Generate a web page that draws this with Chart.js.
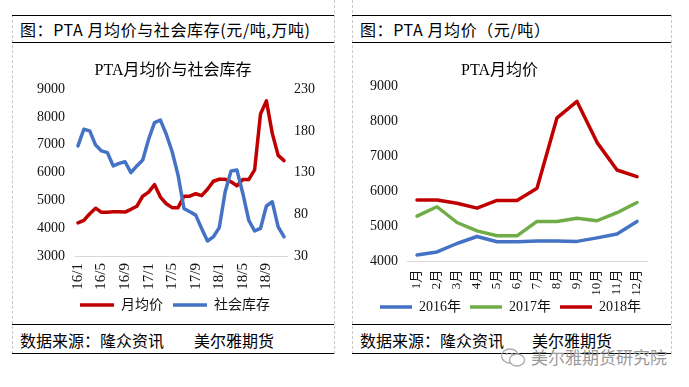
<!DOCTYPE html>
<html>
<head>
<meta charset="utf-8">
<script src="https://cdn.jsdelivr.net/npm/chart.js@4"></script>
<style>
  body { margin: 0; background: #fff; width: 689px; height: 387px; overflow: hidden; position: relative;
         font-family: "Noto Sans CJK SC", sans-serif; }
  .hl { position: absolute; height: 0; border-top: 1.5px solid #000; }
  .vl { position: absolute; width: 0; border-left: 1px dashed #c8c8c8; }
  .txt { position: absolute; font-size: 16px; line-height: 20px; color: #000; white-space: nowrap; }
  canvas { position: absolute; }
</style>
</head>
<body>
<!-- cadres -->
<div class="vl" style="left:12px;top:15px;height:339px"></div>
<div class="vl" style="left:334px;top:0px;height:354px"></div>
<div class="vl" style="left:352px;top:0px;height:354px"></div>
<div class="vl" style="left:671px;top:15px;height:339px"></div>

<div class="hl" style="left:12px;top:15px;width:322px"></div>
<div class="hl" style="left:12px;top:42px;width:322px"></div>
<div class="hl" style="left:352px;top:15px;width:319px"></div>
<div class="hl" style="left:352px;top:42px;width:319px"></div>
<div class="hl" style="left:12px;top:324px;width:322px"></div>
<div class="hl" style="left:12px;top:353px;width:322px"></div>
<div class="hl" style="left:352px;top:324px;width:319px"></div>
<div class="hl" style="left:352px;top:353px;width:319px"></div>

<div class="txt" style="left:20px;top:19px;letter-spacing:0.6px">图：PTA 月均价与社会库存(元/吨,万吨)</div>
<div class="txt" style="left:360px;top:19px;letter-spacing:0.6px">图：PTA 月均价（元/吨）</div>

<div class="txt" style="left:20px;top:330px">数据来源：隆众资讯</div>
<div class="txt" style="left:194px;top:330px">美尔雅期货</div>
<div class="txt" style="left:360px;top:330px">数据来源：隆众资讯</div>
<div class="txt" style="left:532px;top:330px">美尔雅期货</div>

<svg style="position:absolute;left:500px;top:347px" width="28" height="22" viewBox="0 0 28 22">
  <ellipse cx="10" cy="9" rx="8.5" ry="7" fill="none" stroke="#aaa" stroke-width="1.3"/>
  <ellipse cx="17" cy="13" rx="7.5" ry="6" fill="#fff" stroke="#aaa" stroke-width="1.3"/>
  <circle cx="7" cy="7" r="1" fill="#aaa"/><circle cx="12" cy="7" r="1" fill="#aaa"/>
</svg>
<div class="txt" style="left:531px;top:347px;font-size:17px;color:#9a9a9a">美尔雅期货研究院</div>

<canvas id="left" width="322" height="300" style="left:12px;top:43px"></canvas>
<canvas id="right" width="319" height="300" style="left:352px;top:43px"></canvas>

<script>
const months = ['16/1', '16/2', '16/3', '16/4', '16/5', '16/6', '16/7', '16/8', '16/9', '16/10', '16/11', '16/12',
                '17/1', '17/2', '17/3', '17/4', '17/5', '17/6', '17/7', '17/8', '17/9', '17/10', '17/11', '17/12',
                '18/1', '18/2', '18/3', '18/4', '18/5', '18/6', '18/7', '18/8', '18/9', '18/10', '18/11', '18/12'];
const monthNames = ['1月', '2月', '3月', '4月', '5月', '6月', '7月', '8月', '9月', '10月', '11月', '12月'];

// prix moyen mensuel PTA (元/吨)
const price2016 = [4190, 4280, 4520, 4720, 4570, 4570, 4590, 4590, 4580, 4680, 4790, 5150];
const price2017 = [5300, 5570, 5120, 4880, 4740, 4740, 5150, 5150, 5240, 5170, 5400, 5690];
const price2018 = [5760, 5760, 5670, 5530, 5750, 5750, 6100, 8110, 8580, 7410, 6620, 6430];

// stock social (万吨)
const stock = [162, 182, 180, 163, 156, 154, 138, 141, 143, 130, 138, 145,
               170, 190, 193, 176, 155, 127, 87, 83, 79, 63, 48, 53,
               64, 107, 132, 133, 105, 73, 60, 63, 90, 95, 65, 53];

const priceAll = price2016.concat(price2017, price2018);

const RED = '#C00000', BLUE = '#4472C4', GREEN = '#70AD47';

Chart.defaults.font.family = '"Liberation Serif", "Noto Sans CJK SC", serif';
Chart.defaults.font.size = 14;
Chart.defaults.color = '#111';
Chart.defaults.animation = false;

// taille fixe des axes pour caler la zone de tracé
function fix(size) {
    return function (scale) {
        if (scale.isHorizontal()) scale.height = size;
        else scale.width = size;
    };
}

// place la légende (centre des items en y, décalage en x)
const placeLegend = {
    id: 'placeLegend',
    afterLayout(chart, args, opts) {
        const lg = chart.legend;
        if (!lg || opts.y == null) return;
        const pad = lg.options.labels.padding;
        const dy = opts.y - pad - 7 - lg.top;
        const dx = opts.dx || 0;
        lg.top += dy;
        lg.bottom += dy;
        lg.left += dx;
        lg.right += dx;
    }
};

function serie(label, data, color, axis, order) {
    return {
        label: label, data: data, yAxisID: axis, order: order,
        borderColor: color, backgroundColor: color,
        borderWidth: 3.5, pointBorderWidth: 3.5, pointRadius: 0,
        tension: 0, borderJoinStyle: 'round', borderCapStyle: 'round'
    };
}

function legende(largeur, ecart) {
    return {
        position: 'bottom',
        labels: {
            usePointStyle: true, pointStyle: 'line', pointStyleWidth: largeur, boxHeight: 10,
            padding: ecart, color: '#111', font: { size: 14 },
            sort: (a, b) => a.datasetIndex - b.datasetIndex
        }
    };
}

const sansGrille = { display: false, drawTicks: false };
const brut = (v) => String(v);

new Chart(document.getElementById('left'), {
    type: 'line',
    data: {
        labels: months,
        datasets: [
            serie('月均价', priceAll, RED, 'y', 2),
            serie('社会库存', stock, BLUE, 'y1', 1)
        ]
    },
    options: {
        responsive: false,
        layout: { padding: { left: 0, right: 0, top: 0, bottom: 13 } },
        plugins: {
            title: { display: true, text: 'PTA月均价与社会库存', color: '#000',
                     font: { size: 16, weight: 'normal' }, padding: { top: 18, bottom: 9 } },
            legend: legende(34, 10),
            placeLegend: { y: 262, dx: 2 },
            tooltip: { enabled: false }
        },
        scales: {
            x: {
                offset: true, grid: sansGrille,
                border: { display: true, color: '#d9d9d9', width: 1 },
                ticks: { autoSkip: false, maxRotation: 90, minRotation: 90, padding: 7, font: { size: 15 },
                         callback: (v, i) => (i % 4 === 0 ? months[i] : null) },
                afterFit: fix(40)
            },
            y: {
                position: 'left', min: 3000, max: 9000,
                ticks: { stepSize: 1000, padding: 10, callback: brut },
                grid: sansGrille, border: { display: false },
                afterFit: fix(63)
            },
            y1: {
                position: 'right', min: 30, max: 230,
                ticks: { stepSize: 50, padding: 7, callback: brut },
                grid: sansGrille, border: { display: false },
                afterFit: fix(47)
            }
        }
    },
    plugins: [placeLegend]
});

new Chart(document.getElementById('right'), {
    type: 'line',
    data: {
        labels: monthNames,
        datasets: [
            serie('2016年', price2016, BLUE, 'y', 3),
            serie('2017年', price2017, GREEN, 'y', 2),
            serie('2018年', price2018, RED, 'y', 1)
        ]
    },
    options: {
        responsive: false,
        layout: { padding: { left: 0, right: 24, top: 0, bottom: 8.3 } },
        plugins: {
            title: { display: true, text: 'PTA月均价', color: '#000',
                     font: { size: 16, weight: 'normal' }, padding: { top: 18, bottom: 6.5 } },
            legend: legende(32, 9),
            placeLegend: { y: 264, dx: 11 },
            tooltip: { enabled: false }
        },
        scales: {
            x: {
                offset: true, grid: sansGrille,
                border: { display: true, color: '#d9d9d9', width: 1 },
                ticks: { autoSkip: false, maxRotation: 90, minRotation: 90, padding: 8, font: { size: 13 } },
                afterFit: fix(40)
            },
            y: {
                min: 4000, max: 9000,
                ticks: { stepSize: 1000, padding: 9, callback: brut },
                grid: sansGrille, border: { display: false },
                afterFit: fix(55)
            }
        }
    },
    plugins: [placeLegend]
});
</script>
</body>
</html>
